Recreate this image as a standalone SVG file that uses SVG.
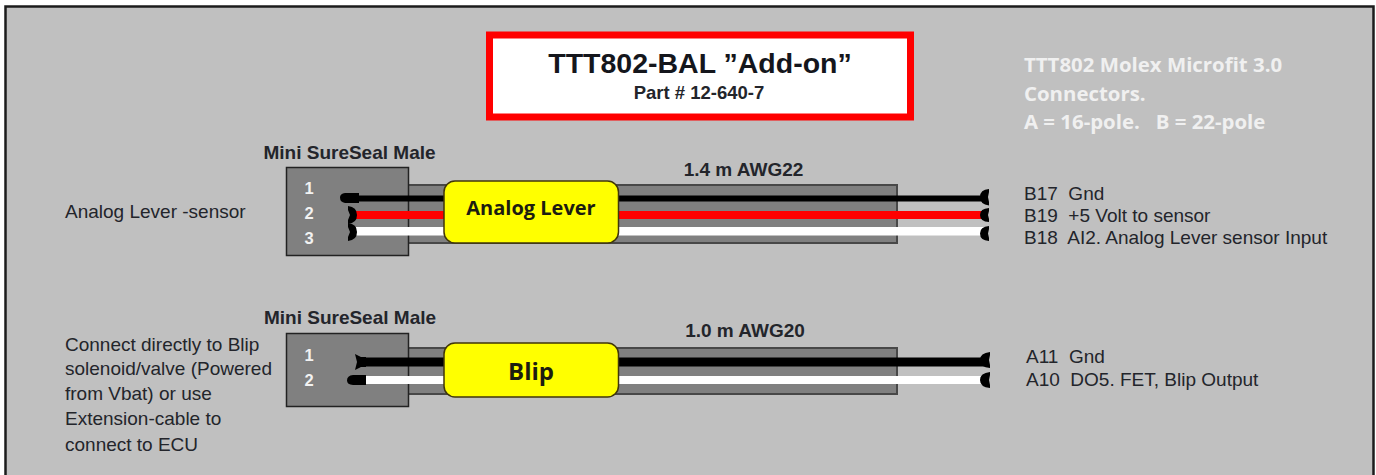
<svg xmlns="http://www.w3.org/2000/svg" width="1376" height="475" viewBox="0 0 1376 475">
<style>
text{font-family:"Liberation Sans",Arial,sans-serif;fill:#23252b}
.lbl{font-size:19px}
.hd{font-size:19px;font-weight:bold;text-anchor:middle}
.len{font-size:19px;font-weight:bold;text-anchor:middle}
.num{font-size:16.500px;font-weight:bold;fill:#f2f2f2;text-anchor:middle}
.box{fill:#808080;stroke:#222;stroke-width:1.5}
.cable{fill:#808080;stroke:#484848;stroke-width:2}
.tag{fill:#ffff00;stroke:#40360a;stroke-width:1.5}
.tagt{font-family:"Open Sans",sans-serif;font-weight:700;font-size:20px;text-anchor:middle;fill:#1c1c10}
.wht{font-family:"Open Sans",sans-serif;font-weight:700;font-size:20.400px;fill:#f0f0f0}
.end{fill:#000}
</style>
<rect x="0" y="0" width="1376" height="475" fill="#ffffff"/>
<rect id="panel" x="5.500" y="6.500" width="1368" height="475" fill="#c0c0c0" stroke="#1c1c1c" stroke-width="2.500"/>
<g id="title">
<rect x="489.500" y="35" width="421" height="82" fill="#fff" stroke="#ff0000" stroke-width="7"/>
<text x="700" y="73" text-anchor="middle" font-weight="bold" style="font-size:28.500px;fill:#14161c">TTT802-BAL ”Add-on”</text>
<text x="699" y="98.500" text-anchor="middle" font-weight="bold" style="font-size:18.500px">Part # 12-640-7</text>
</g>
<g id="note">
<text class="wht" x="1024" y="72">TTT802 Molex Microfit 3.0</text>
<text class="wht" x="1024" y="101">Connectors.</text>
<text class="wht" x="1024" y="129">A = 16-pole.&#160;&#160; B = 22-pole</text>
</g>
<g id="analog-desc"><text class="lbl" x="65" y="218">Analog Lever -sensor</text></g>
<g id="blip-desc">
<text class="lbl" x="65" y="351">Connect directly to Blip</text>
<text class="lbl" x="65" y="375">solenoid/valve (Powered</text>
<text class="lbl" x="65" y="400">from Vbat) or use</text>
<text class="lbl" x="65" y="425">Extension-cable to</text>
<text class="lbl" x="65" y="451">connect to ECU</text>
</g>
<g id="analog-cable-sheath"><rect class="cable" x="408" y="185" width="489" height="58"/></g>
<g id="blip-cable-sheath"><rect class="cable" x="408" y="348" width="489" height="46"/></g>
<g id="analog-connector">
<text class="hd" x="349.500" y="159">Mini SureSeal Male</text>
<rect class="box" x="286.500" y="167.500" width="122" height="88"/>
<text class="num" x="309" y="194">1</text><text class="num" x="309" y="219">2</text><text class="num" x="309" y="244">3</text>
</g>
<g id="blip-connector">
<text class="hd" x="350" y="324">Mini SureSeal Male</text>
<rect class="box" x="286.500" y="333.500" width="122" height="73"/>
<text class="num" x="309" y="361">1</text><text class="num" x="309" y="386">2</text>
</g>
<g id="connectors">
<rect x="358" y="195.500" width="628" height="6" fill="#000"/>
<rect x="356" y="211" width="630" height="8" fill="#ff0000"/>
<rect x="356" y="227" width="630" height="8.500" fill="#fff"/>
<rect x="365" y="357.500" width="621" height="9" fill="#000"/>
<rect x="365" y="376" width="621" height="8" fill="#fff"/>
<g class="end">
<path d="M340 197.500q0-4 5-4.500h14v10h-14q-5-1-5-5.500z"/>
<path d="M348 206q9 1 9 9t-9 9l0-4 2-5-2-5z"/>
<path d="M348 223q9 1 9 9t-9 9l0-4 2-5-2-5z"/>
<path d="M355 354l6 3h5v10h-5l-6 3 2-8z"/>
<path d="M347 380.500q0-5 6-5.500h13v10h-13q-6-.5-6-4.500z"/>
<path d="M989 189q-9 .5-9 8t9 8.500l0-3.500-1-5 1-5z"/>
<path d="M989 208q-9 .5-9 7t9 7l0-3-1-4 1-4z"/>
<path d="M989 226q-9 .5-9 7.500t9 7.500l0-3-1-4.500 1-4.500z"/>
<path d="M990 352q-10 1-10 8t10 8l0-3-1-5 1-5z"/>
<path d="M990 372q-10 1-10 8t10 8l0-3-1-5 1-5z"/>
</g>
</g>
<g id="analog-tag">
<rect class="tag" x="444" y="181" width="174.500" height="62" rx="11"/>
<text class="tagt" x="531" y="215">Analog Lever</text>
</g>
<g id="blip-tag">
<rect class="tag" x="444" y="343" width="174.500" height="54" rx="11"/>
<text class="tagt" x="531" y="380" style="font-size:24px">Blip</text>
</g>
<g id="analog-length"><text class="len" x="743.500" y="176">1.4 m AWG22</text></g>
<g id="blip-length"><text class="len" x="745" y="337">1.0 m AWG20</text></g>
<g id="analog-pins">
<text class="lbl" x="1024" y="200">B17&#160; Gnd</text>
<text class="lbl" x="1024" y="222">B19&#160; +5 Volt to sensor</text>
<text class="lbl" x="1024" y="244">B18&#160; AI2. Analog Lever sensor Input</text>
</g>
<g id="blip-pins">
<text class="lbl" x="1026" y="363">A11&#160; Gnd</text>
<text class="lbl" x="1026" y="386">A10&#160; DO5. FET, Blip Output</text>
</g>
</svg>
